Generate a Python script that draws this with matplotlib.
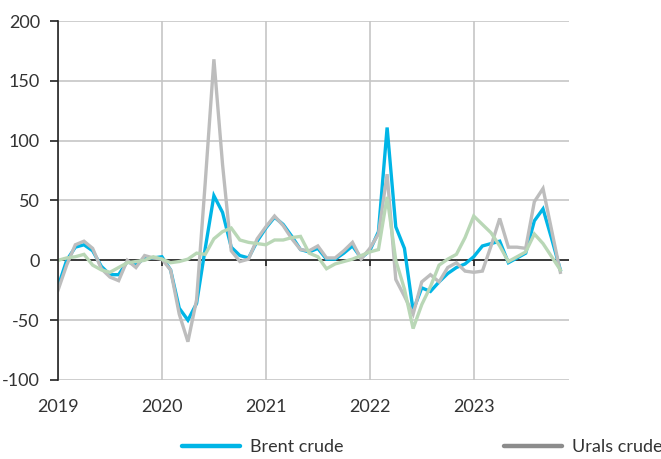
import matplotlib
matplotlib.use("Agg")
import matplotlib.pyplot as plt
from matplotlib.lines import Line2D
import numpy as np

plt.rcParams['font.family'] = ['Lato', 'DejaVu Sans']
plt.rcParams['axes.unicode_minus'] = False

# Monthly series, Jan 2019 - Nov 2023 (y/y % change)
months = np.arange(59)
year_labels = ["2019", "2020", "2021", "2022", "2023"]
year_positions = [0, 12, 24, 36, 48]

brent = [
    -22, 0, 11, 13, 8, -5, -12, -12, -1, -4, 2, 2,
    3, -8, -40, -50, -36, 10, 54, 40, 11, 4, 2, 16,
    27, 36, 30, 20, 9, 7, 10, 1, 1, 6, 12, 2,
    8, 24, 111, 28, 10, -42, -23, -26, -18, -11, -6, -3,
    3, 12, 14, 16, -2, 2, 6, 33, 43, 18, -8,
]
urals = [
    -25, -4, 13, 16, 10, -7, -14, -17, 0, -6, 4, 2,
    1, -8, -45, -68, -33, 65, 168, 80, 8, -1, 1, 18,
    28, 37, 29, 18, 9, 8, 12, 2, 2, 8, 15, 1,
    10, 22, 72, -16, -30, -45, -18, -12, -18, -6, -2, -9,
    -10, -9, 12, 35, 11, 11, 10, 49, 60, 25, -10,
]
third = [
    0, 2, 3, 5, -4, -8, -10, -6, -2, -1, 0, 3,
    1, -2, -1, 1, 6, 5, 18, 24, 27, 17, 15, 14,
    13, 17, 17, 19, 20, 6, 3, -7, -3, -1, 1, 4,
    7, 9, 53, 0, -24, -57, -37, -22, -4, 1, 5, 19,
    37, 30, 23, 12, -1, 3, 7, 22, 14, 3, -8,
]

BLUE = "#00b5e6"
GREY = "#bdbdbd"
GREY_LEGEND = "#8c8c8c"
GREEN = "#b9d7b6"
GRID = "#c6c6c6"

fig = plt.figure(figsize=(6.61, 4.59), dpi=100)
ax = fig.add_axes([58 / 661, 1 - 380 / 459, (569 - 58) / 661, (380 - 21) / 459])

ax.plot(months, brent, color=BLUE, lw=2.4, solid_joinstyle="miter", zorder=3)
ax.plot(months, urals, color=GREY, lw=2.4, solid_joinstyle="miter", zorder=4)
ax.plot(months, third, color=GREEN, lw=2.4, solid_joinstyle="miter", zorder=5)

ax.set_xlim(0, 59)
ax.set_ylim(-100, 200)
ax.set_yticks(np.arange(-100, 201, 50))
ax.set_xticks(year_positions)
ax.set_xticklabels(year_labels)

ax.grid(True, color=GRID, lw=1.2, zorder=0)
ax.set_axisbelow(True)
for s in ["top", "right", "bottom"]:
    ax.spines[s].set_visible(False)
ax.spines["left"].set_color("#222222")
ax.spines["left"].set_linewidth(1.2)
ax.spines["left"].set_zorder(6)

ax.axhline(0, color="#222222", lw=1.2, zorder=2)
ax.vlines(year_positions[1:], -4.5, 0, color="#222222", lw=1.2, zorder=2)

ax.tick_params(axis="y", length=6, width=1.2, color="#222222", pad=7,
               labelsize=13, labelcolor="#333333")
ax.tick_params(axis="x", length=0, pad=14, labelsize=13, labelcolor="#333333")

handles = [
    Line2D([], [], color=BLUE, lw=3.2, solid_capstyle="round"),
    Line2D([], [], color=GREY_LEGEND, lw=3.2, solid_capstyle="round"),
]
fig.legend(handles, ["Brent crude", "Urals crude"], loc="center left",
           bbox_to_anchor=(182 / 661, 1 - 447 / 459), ncol=2, frameon=False,
           fontsize=13, handlelength=3.2, handletextpad=0.55, columnspacing=8.9,
           labelcolor="#333333", borderaxespad=0, borderpad=0)

fig.savefig("out.png", dpi=100)
